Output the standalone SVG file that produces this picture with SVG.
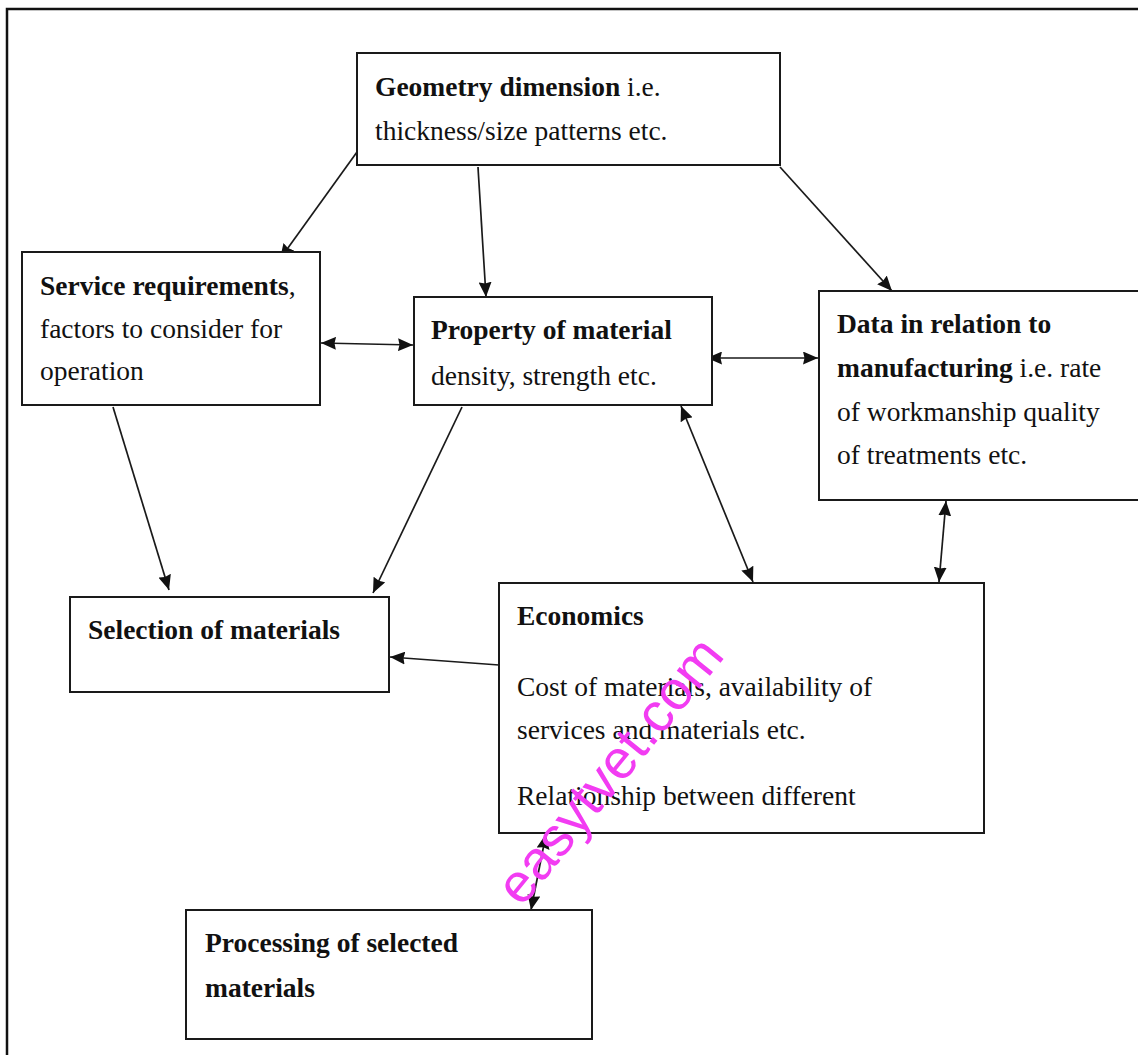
<svg xmlns="http://www.w3.org/2000/svg" width="1138" height="1055" viewBox="0 0 1138 1055">
<style>
.box{fill:#fff;stroke:#1a1a1a;stroke-width:2}
.t{font-family:"Liberation Serif","Times New Roman",serif;font-size:27.5px;fill:#111}
.b{font-weight:bold}
.c{stroke:#1a1a1a;stroke-width:1.7;fill:none}
.wm{font-family:"Liberation Sans",Arial,sans-serif;font-size:55px;fill:#f23cf2}
</style>
<defs>
<marker id="ah" viewBox="0 0 15 13" refX="15" refY="6.5" markerWidth="15" markerHeight="13" markerUnits="userSpaceOnUse" orient="auto-start-reverse">
<path d="M0,0 L15,6.5 L0,13 L1.5,6.5 Z" fill="#111"/>
</marker>
</defs>
<rect x="0" y="0" width="1138" height="1055" fill="#fff"/>
<path d="M7,1055 V9 H1138" fill="none" stroke="#111" stroke-width="2.5"/>

<g id="connectors">
<line class="c" x1="357" y1="152" x2="280" y2="259" marker-end="url(#ah)"/>
<line class="c" x1="478" y1="167" x2="486" y2="297" marker-end="url(#ah)"/>
<line class="c" x1="780" y1="167" x2="892" y2="291" marker-end="url(#ah)"/>
<line class="c" x1="321" y1="343" x2="413" y2="345" marker-start="url(#ah)" marker-end="url(#ah)"/>
<line class="c" x1="707" y1="358" x2="818" y2="358" marker-start="url(#ah)" marker-end="url(#ah)"/>
<line class="c" x1="113" y1="407" x2="169" y2="590" marker-end="url(#ah)"/>
<line class="c" x1="462" y1="407" x2="373" y2="593" marker-end="url(#ah)"/>
<line class="c" x1="681" y1="406" x2="753" y2="582" marker-start="url(#ah)" marker-end="url(#ah)"/>
<line class="c" x1="946" y1="501" x2="939" y2="582" marker-start="url(#ah)" marker-end="url(#ah)"/>
<line class="c" x1="499" y1="665" x2="390" y2="657" marker-end="url(#ah)"/>
<line class="c" x1="546" y1="834" x2="531" y2="910" marker-start="url(#ah)" marker-end="url(#ah)"/>
</g>

<g id="geometry">
<rect class="box" x="357" y="53" width="423" height="112"/>
<text class="t" x="375" y="96"><tspan class="b">Geometry dimension</tspan> i.e.</text>
<text class="t" x="375" y="140">thickness/size patterns etc.</text>
</g>

<g id="service">
<rect class="box" x="22" y="252" width="298" height="153"/>
<text class="t" x="40" y="295"><tspan class="b">Service requirements</tspan>,</text>
<text class="t" x="40" y="338">factors to consider for</text>
<text class="t" x="40" y="380">operation</text>
</g>

<g id="property">
<rect class="box" x="414" y="297" width="298" height="108"/>
<text class="t b" x="431" y="339">Property of material</text>
<text class="t" x="431" y="385">density, strength etc.</text>
</g>

<g id="data">
<rect class="box" x="819" y="291" width="320" height="209"/>
<text class="t b" x="837" y="333">Data in relation to</text>
<text class="t" x="837" y="377"><tspan class="b">manufacturing</tspan> i.e. rate</text>
<text class="t" x="837" y="421">of workmanship quality</text>
<text class="t" x="837" y="464">of treatments etc.</text>
</g>

<g id="selection">
<rect class="box" x="70" y="597" width="319" height="95"/>
<text class="t b" x="88" y="639">Selection of materials</text>
</g>

<g id="economics">
<rect class="box" x="499" y="583" width="485" height="250"/>
<text class="t b" x="517" y="625">Economics</text>
<text class="t" x="517" y="696">Cost of materials, availability of</text>
<text class="t" x="517" y="739">services and materials etc.</text>
<text class="t" x="517" y="805">Relationship between different</text>
</g>

<g id="processing">
<rect class="box" x="186" y="910" width="406" height="129"/>
<text class="t b" x="205" y="952">Processing of selected</text>
<text class="t b" x="205" y="997">materials</text>
</g>

<text class="wm" x="522" y="908" transform="rotate(-51 522 908)">easytvet.com</text>
</svg>
